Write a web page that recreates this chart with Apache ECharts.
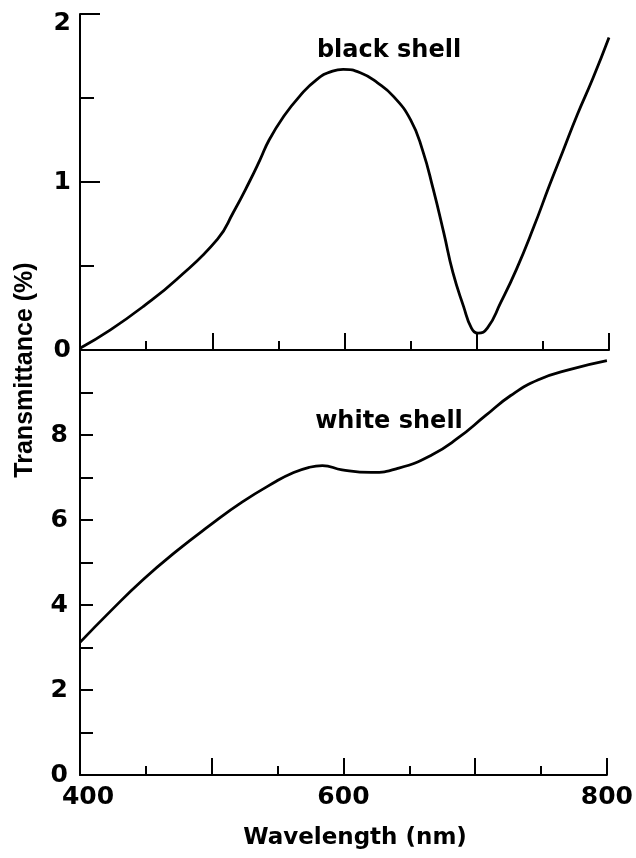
<!DOCTYPE html>
<html><head><meta charset="utf-8">
<script src="https://cdn.jsdelivr.net/npm/echarts@6/dist/echarts.min.js"></script>
<style>html,body{margin:0;padding:0;background:#fff}#c{width:636px;height:858px}</style>
</head><body><div id="c"></div>
<script>
const blackX = [400, 423, 448, 473, 504, 516, 528, 536, 543, 554, 566, 579, 591, 599, 612, 625, 637, 650, 659, 667, 675, 682, 690, 696, 701, 708, 718, 730, 743, 755, 765, 776, 788, 800];
const blackY = [0.01, 0.12, 0.26, 0.42, 0.66, 0.82, 1.00, 1.13, 1.25, 1.39, 1.51, 1.61, 1.66, 1.67, 1.65, 1.59, 1.51, 1.37, 1.19, 0.96, 0.70, 0.46, 0.26, 0.13, 0.10, 0.13, 0.28, 0.48, 0.73, 0.98, 1.18, 1.40, 1.62, 1.86];
const whiteX = [400, 423, 448, 473, 498, 523, 549, 561, 574, 584, 599, 621, 642, 667, 687, 708, 727, 748, 773, 800];
const whiteY = [3.12, 3.85, 4.60, 5.26, 5.86, 6.42, 6.91, 7.10, 7.24, 7.28, 7.18, 7.12, 7.22, 7.53, 7.93, 8.46, 8.93, 9.30, 9.55, 9.75];
const xLabels = [400, 600, 800];
const topYLabels = [0, 1, 2];
const bottomYLabels = [0, 2, 4, 6, 8];
const yTitle = 'Transmittance (%)';
const xTitle = 'Wavelength (nm)';
const blackName = 'black shell';
const whiteName = 'white shell';

const zip = (xs, ys) => xs.map((x, i) => [x, ys[i]]);
const font = '"DejaVu Sans", Verdana, sans-serif';
const font2 = '"Liberation Sans", Arial, Helvetica, sans-serif';
const axisStyle = {lineStyle: {color: '#000', width: 2}};
const tickStyle = {color: '#000', width: 2};
const labelBase = {color: '#000', fontFamily: font, fontWeight: 'bold', fontSize: 25};

const chart = echarts.init(document.getElementById('c'));
chart.setOption({
  animation: false,
  backgroundColor: '#fff',
  grid: [
    {left: 80, right: 27, top: 14, height: 336},
    {left: 80, right: 27, top: 350, height: 425}
  ],
  xAxis: [
    {gridIndex: 0, type: 'value', min: 400, max: 800, interval: 100,
     axisLine: axisStyle, axisTick: {inside: true, length: 17, lineStyle: tickStyle},
     minorTick: {show: true, splitNumber: 2, length: 9, lineStyle: tickStyle},
     axisLabel: {show: false}, splitLine: {show: false}},
    {gridIndex: 1, type: 'value', min: 400, max: 800, interval: 100,
     axisLine: axisStyle, axisTick: {inside: true, length: 17, lineStyle: tickStyle},
     minorTick: {show: true, splitNumber: 2, length: 9, lineStyle: tickStyle},
     axisLabel: Object.assign({}, labelBase, {margin: 10,
       formatter: v => v === xLabels[0] ? '{first|' + v + '}' : (xLabels.includes(v) ? String(v) : ''),
       rich: {first: Object.assign({}, labelBase, {padding: [0, 0, 0, 16]})}}),
     splitLine: {show: false}}
  ],
  yAxis: [
    {gridIndex: 0, type: 'value', min: 0, max: 2, interval: 1,
     axisLine: axisStyle, axisTick: {inside: true, length: 20, lineStyle: tickStyle},
     minorTick: {show: true, splitNumber: 2, length: 14, lineStyle: tickStyle},
     axisLabel: Object.assign({}, labelBase, {margin: 9,
       formatter: v => v === topYLabels[2] ? '{top|' + v + '}' : (topYLabels.includes(v) ? String(v) : ''),
       rich: {top: Object.assign({}, labelBase, {padding: [18, 0, 0, 0]})}}),
     splitLine: {show: false}},
    {gridIndex: 1, type: 'value', min: 0, max: 10, interval: 2,
     axisLine: axisStyle, axisTick: {inside: true, length: 13, lineStyle: tickStyle},
     minorTick: {show: true, splitNumber: 2, length: 13, lineStyle: tickStyle},
     axisLabel: Object.assign({}, labelBase, {margin: 12,
       formatter: v => bottomYLabels.includes(v) ? String(v) : ''}),
     splitLine: {show: false}}
  ],
  series: [
    {name: blackName, type: 'line', xAxisIndex: 0, yAxisIndex: 0, smooth: 0.5, symbol: 'none',
     lineStyle: {color: '#000', width: 2.8}, data: zip(blackX, blackY)},
    {name: whiteName, type: 'line', xAxisIndex: 1, yAxisIndex: 1, smooth: 0.5, symbol: 'none',
     lineStyle: {color: '#000', width: 2.8}, data: zip(whiteX, whiteY)}
  ],
  graphic: [
    {type: 'text', x: 25, y: 370, rotation: Math.PI / 2,
     style: {text: yTitle, fill: '#000', font: 'bold 25px ' + font2, textAlign: 'center', textVerticalAlign: 'middle'}},
    {type: 'text', x: 355, y: 838,
     style: {text: xTitle, fill: '#000', font: 'bold 23px ' + font, textAlign: 'center', textVerticalAlign: 'middle'}},
    {type: 'text', x: 389, y: 51,
     style: {text: blackName, fill: '#000', font: 'bold 24px ' + font, textAlign: 'center', textVerticalAlign: 'middle'}},
    {type: 'text', x: 389, y: 422,
     style: {text: whiteName, fill: '#000', font: 'bold 24px ' + font, textAlign: 'center', textVerticalAlign: 'middle'}}
  ]
});
</script>
</body></html>
